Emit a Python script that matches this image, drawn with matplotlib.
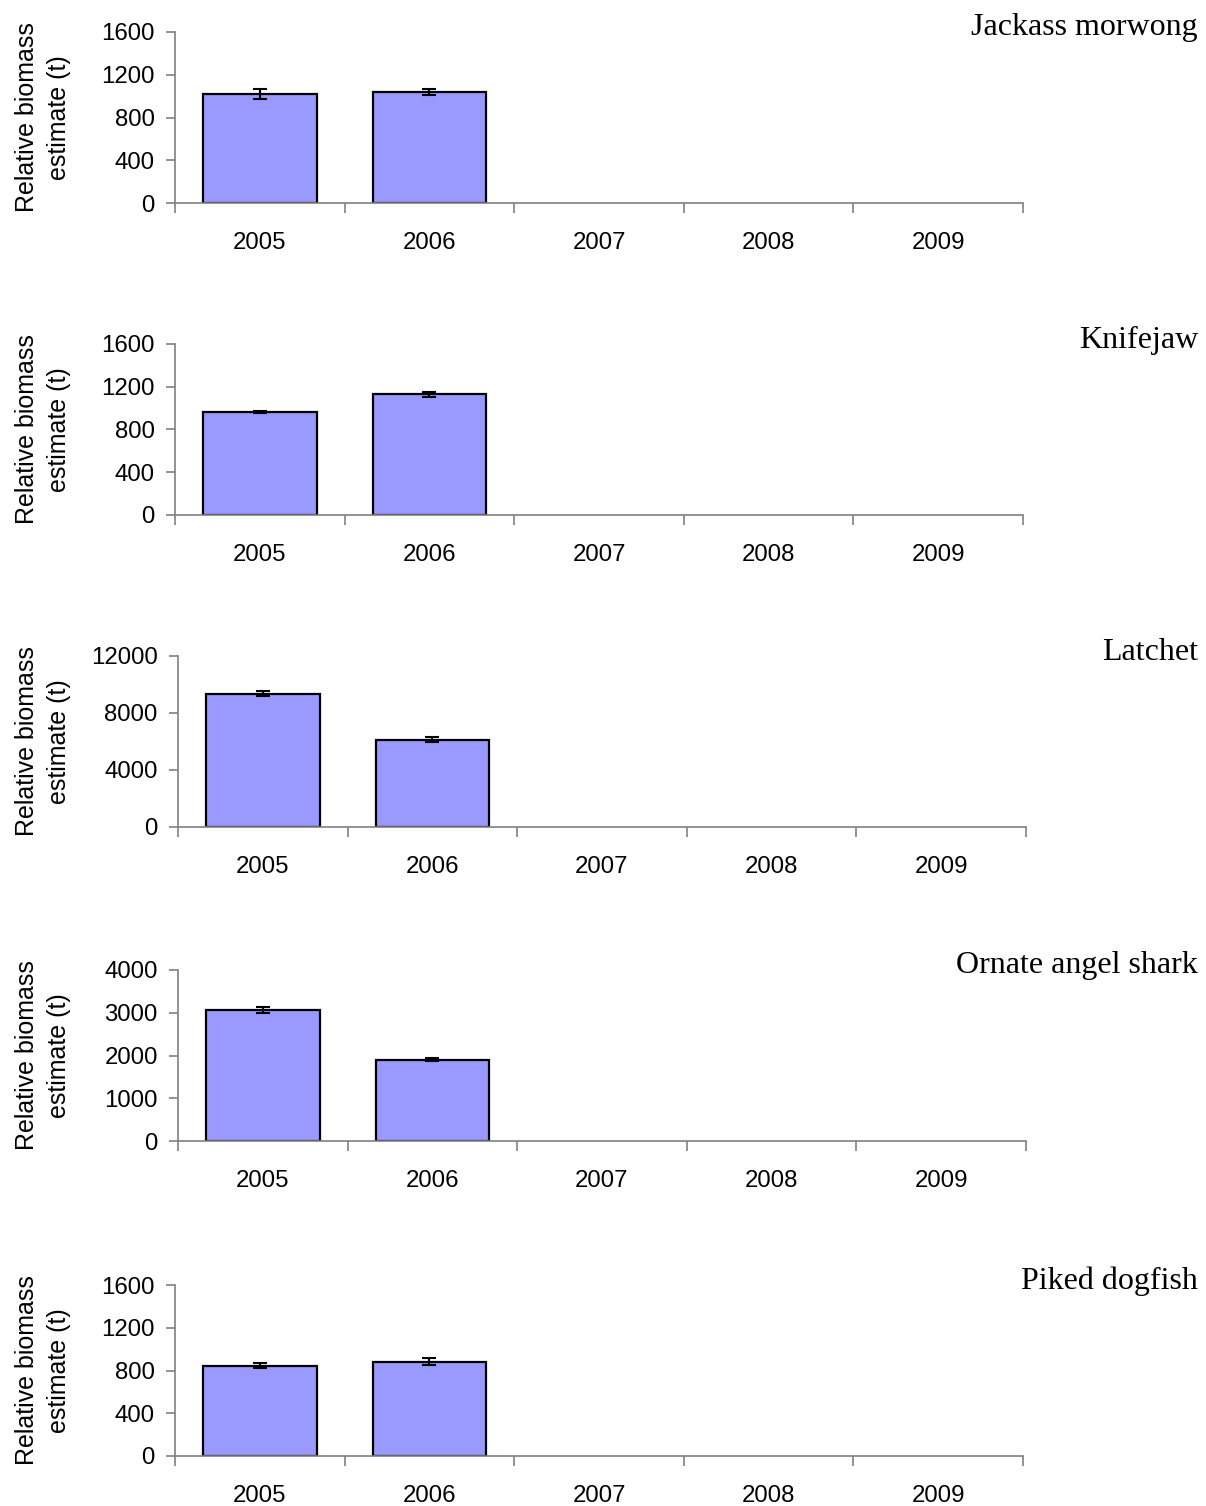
import numpy as np
import matplotlib.pyplot as plt

years = ['2005', '2006', '2007', '2008', '2009']
species = ['Jackass morwong', 'Knifejaw', 'Latchet', 'Ornate angel shark', 'Piked dogfish']
biomass = [
    [1023, 1038],
    [963, 1129],
    [9350, 6140],
    [3070, 1905],
    [845, 883],
]
errors = [
    [48, 30],
    [10, 25],
    [160, 180],
    [65, 35],
    [25, 31],
]
ymax = [1600, 1600, 12000, 4000, 1600]
ystep = [400, 400, 4000, 1000, 400]

W, H = 1206, 1506
fig = plt.figure(figsize=(W / 100, H / 100), dpi=100)

tops = [32, 344, 656, 970, 1285]
lefts = [175, 175, 178, 178, 175]
ax_h = 171
ax_w = 848
grey = '#808080'

for i, name in enumerate(species):
    top = tops[i]
    ax = fig.add_axes([lefts[i] / W, 1 - (top + ax_h) / H, ax_w / W, ax_h / H])
    x = np.arange(len(biomass[i]))
    ax.bar(x, biomass[i], width=0.67, color='#9999FF', edgecolor='black', linewidth=1.6, zorder=2)
    ax.errorbar(x, biomass[i], yerr=errors[i], fmt='none', ecolor='black',
                elinewidth=1.5, capsize=5, capthick=1.5, zorder=3)
    ax.set_xlim(-0.5, len(years) - 0.5)
    ax.set_ylim(0, ymax[i])
    ax.set_yticks(np.arange(0, ymax[i] + 1, ystep[i]))
    ax.set_xticks(np.arange(len(years) + 1) - 0.5)
    ax.set_xticklabels([])
    ax.set_xticks(np.arange(len(years)), minor=True)
    ax.set_xticklabels(years, minor=True, fontsize=17.3, family='Liberation Sans')
    ax.tick_params(axis='x', which='major', direction='out', length=7, color=grey, width=1.2)
    ax.tick_params(axis='x', which='minor', length=0, pad=21)
    ax.tick_params(axis='y', direction='out', length=6.5, color=grey, width=1.2, pad=8)
    for lbl in ax.get_yticklabels():
        lbl.set_fontsize(17.3)
        lbl.set_family('Liberation Sans')
    for s in ['top', 'right']:
        ax.spines[s].set_visible(False)
    for s in ['left', 'bottom']:
        ax.spines[s].set_color(grey)
        ax.spines[s].set_linewidth(1.2)
    ax.set_ylabel('Relative biomass\nestimate (t)', fontsize=18, family='Liberation Sans',
                  linespacing=1.45, va='center')
    ax.yaxis.set_label_coords((43 - lefts[i]) / ax_w, 0.5)
    fig.text(1198 / W, 1 - (top - 4) / H, name, ha='right', va='center',
             fontsize=23, family='Liberation Serif')

fig.savefig('out.png', dpi=100)
